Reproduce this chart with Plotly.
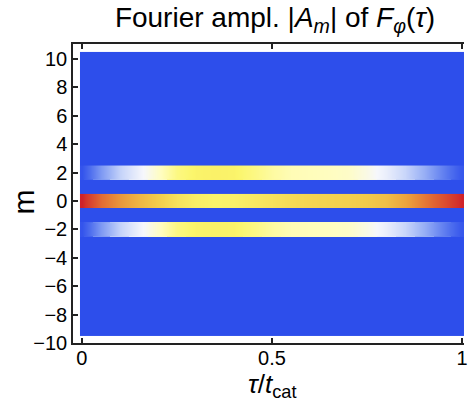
import plotly.graph_objects as go

# Sampled times tau / t_cat
tau = [0.0, 0.01, 0.05, 0.10, 0.15, 0.20, 0.25, 0.30, 0.35, 0.40, 0.45, 0.50,
       0.55, 0.60, 0.65, 0.70, 0.75, 0.80, 0.85, 0.90, 0.95, 0.99, 1.0]

# Fourier mode numbers shown on the grid
m_values = list(range(-9, 11))

# Normalised Fourier amplitudes |A_m| (0 = background level)
amp_m0 = [1.00, 0.97, 0.89, 0.83, 0.78, 0.74, 0.70, 0.675, 0.665, 0.67, 0.685, 0.70,
          0.715, 0.725, 0.73, 0.735, 0.745, 0.765, 0.81, 0.87, 0.93, 0.98, 1.00]
amp_p2 = [0.02, 0.06, 0.22, 0.38, 0.48, 0.57, 0.64, 0.665, 0.67, 0.665, 0.64, 0.61,
          0.59, 0.585, 0.58, 0.57, 0.53, 0.47, 0.39, 0.28, 0.15, 0.05, 0.03]
amp_m2 = [0.02, 0.06, 0.22, 0.38, 0.48, 0.57, 0.64, 0.665, 0.67, 0.665, 0.64, 0.61,
          0.59, 0.585, 0.58, 0.57, 0.53, 0.47, 0.39, 0.28, 0.15, 0.05, 0.03]

# tick positions and labels
y_ticks = [-10, -8, -6, -4, -2, 0, 2, 4, 6, 8, 10]
x_ticks = [0, 0.5, 1]
x_ticktext = ["0", "0.5", "1"]

rows = {0: amp_m0, 2: amp_p2, -2: amp_m2}
zero_row = [0.0] * len(tau)
grid = [rows.get(m, zero_row) for m in m_values]

# Blue - white - yellow - red temperature style map
temperature = [
    [0.00, "rgb(45,78,235)"],
    [0.10, "rgb(78,110,238)"],
    [0.20, "rgb(118,146,242)"],
    [0.30, "rgb(160,182,246)"],
    [0.40, "rgb(205,217,250)"],
    [0.50, "rgb(246,247,252)"],
    [0.58, "rgb(255,253,192)"],
    [0.66, "rgb(251,246,108)"],
    [0.74, "rgb(242,205,75)"],
    [0.82, "rgb(235,158,60)"],
    [0.90, "rgb(224,100,50)"],
    [1.00, "rgb(208,34,42)"],
]

fig = go.Figure()

# base grid (flat cells)
fig.add_trace(go.Heatmap(
    x=tau, y=m_values, z=grid, colorscale=temperature, zmin=0, zmax=1,
    zsmooth=False, showscale=False, hoverinfo="skip"))

# smooth rendering along tau for the non-zero modes, one band per mode
for m, row in rows.items():
    fig.add_trace(go.Heatmap(
        x=tau, y=[m - 0.25, m + 0.25], z=[row, row], colorscale=temperature,
        zmin=0, zmax=1, zsmooth="best", showscale=False, hoverinfo="skip"))

font_family = "Liberation Sans, Arial, sans-serif"
line_col = "#222222"

fig.update_layout(
    width=468, height=403,
    margin=dict(l=73, r=0, t=44, b=60),
    paper_bgcolor="white", plot_bgcolor="white",
    font=dict(family=font_family, size=20, color="black"),
    showlegend=False,
    title=dict(
        text="Fourier ampl. |<i>A</i><sub><i>m</i></sub>| of <i>F</i><sub><i>φ</i></sub>(<i>τ</i>)",
        x=275 / 468, xref="container", xanchor="center",
        y=1 - 17 / 403, yref="container", yanchor="middle",
        font=dict(size=28, family=font_family, color="black")),
    xaxis=dict(
        range=[-0.0234, 1.0052], tickvals=x_ticks, ticktext=x_ticktext,
        ticks="inside", ticklen=5, tickwidth=1.5, tickcolor=line_col,
        showline=True, linecolor=line_col, linewidth=1.5, mirror="ticks",
        showgrid=False, zeroline=False, ticklabeloverflow="allow",
        ticklabelstandoff=-4,
        tickfont=dict(size=20, family=font_family)),
    yaxis=dict(
        range=[-10, 11.06], tickvals=y_ticks,
        ticks="inside", ticklen=5, tickwidth=1.5, tickcolor=line_col,
        showline=True, linecolor=line_col, linewidth=1.5,
        showgrid=False, zeroline=False,
        tickfont=dict(size=20, family=font_family)),
    annotations=[
        dict(text="<i>τ</i>/<i>t</i><sub>cat</sub>", xref="paper", yref="paper",
             x=(274 - 73) / 395, y=(343 - 385) / 299, xanchor="center", yanchor="middle",
             showarrow=False, font=dict(size=26, family=font_family)),
        dict(text="m", xref="paper", yref="paper", textangle=-90,
             x=(22 - 73) / 395, y=(343 - 202) / 299, xanchor="center", yanchor="middle",
             showarrow=False, font=dict(size=30, family=font_family)),
    ],
)

fig.write_html("out.html")
